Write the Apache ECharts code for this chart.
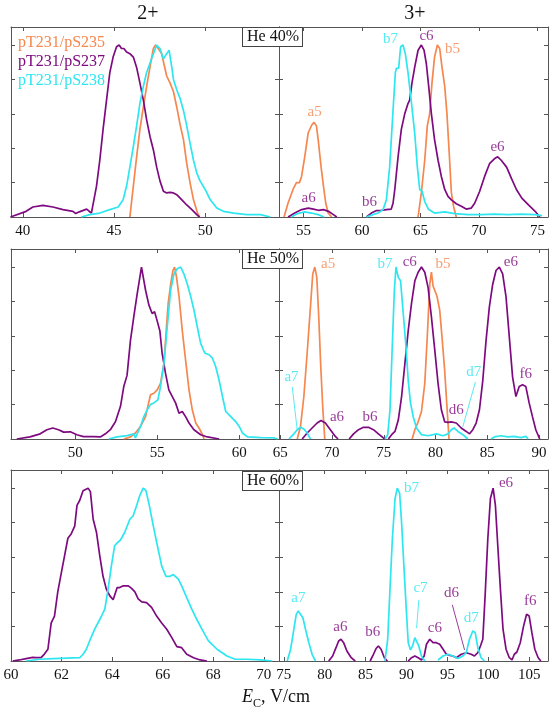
<!DOCTYPE html>
<html><head><meta charset="utf-8">
<script src="https://cdn.jsdelivr.net/npm/echarts@6/dist/echarts.min.js"></script>
<style>html,body{margin:0;padding:0;background:#fff}#c{width:555px;height:715px}</style>
</head><body><div id="c"></div>
<script>
// ---------- DATA (x: E_C in V/cm, y: normalized intensity) ----------
// Row 1: He 40%
const r1L_S235 = [[[45.87,0],[46.06,0.18],[46.24,0.35],[46.42,0.51],[46.61,0.64],[46.79,0.76],[46.97,0.87],[47.16,0.98],[47.28,1.0],[47.43,0.98],[47.61,0.95],[47.74,0.89],[47.89,0.82],[48.07,0.78],[48.26,0.73],[48.44,0.64],[48.62,0.54],[48.81,0.45],[48.99,0.31],[49.17,0.20],[49.36,0.10],[49.58,0.023],[49.69,0]]];
const r1L_S237 = [[[39.32,0],[40.18,0.033],[40.55,0.058],[41.1,0.068],[41.65,0.058],[42.2,0.043],[42.75,0.033],[42.9,0.02],[43.1,0.03],[43.5,0.046],[43.62,0.035],[43.76,0.023],[44.04,0.18],[44.22,0.33],[44.4,0.51],[44.59,0.68],[44.77,0.84],[44.95,0.93],[45.14,0.99],[45.28,1.0],[45.41,0.98],[45.54,0.98],[45.69,0.96],[45.87,0.95],[46.06,0.93],[46.24,0.87],[46.42,0.78],[46.61,0.68],[46.79,0.565],[46.97,0.47],[47.16,0.39],[47.34,0.29],[47.52,0.21],[47.71,0.15],[47.89,0.14],[48.07,0.143],[48.26,0.14],[48.44,0.13],[48.72,0.10],[48.99,0.07],[49.27,0.043],[49.54,0.014],[49.69,0]]];
const r1L_S238 = [[[43.21,0],[43.67,0.014],[44.22,0.023],[44.77,0.043],[45.23,0.058],[45.5,0.10],[45.69,0.18],[45.87,0.29],[46.06,0.41],[46.24,0.53],[46.42,0.66],[46.61,0.76],[46.79,0.84],[47.06,0.92],[47.34,1.0],[47.52,0.98],[47.71,0.92],[47.89,0.95],[48.02,0.97],[48.17,0.87],[48.26,0.80],[48.44,0.74],[48.62,0.69],[48.81,0.62],[48.99,0.53],[49.17,0.43],[49.36,0.33],[49.54,0.255],[49.72,0.21],[50.0,0.16],[50.28,0.10],[50.64,0.052],[51.0,0.033],[51.56,0.023],[52.29,0.014],[53.03,0.014],[53.58,0]]];

const r1R_S235 = [[[53.33,0],[53.67,0.08],[54.1,0.16],[54.39,0.20],[54.55,0.19],[54.65,0.2],[54.83,0.236],[55.1,0.35],[55.4,0.49],[55.7,0.535],[55.9,0.55],[56.1,0.53],[56.25,0.45],[56.5,0.29],[56.7,0.18],[56.9,0.08],[57.1,0.023],[57.4,0]],
  [[64.79,0],[65.07,0.14],[65.36,0.33],[65.58,0.53],[65.78,0.60],[65.98,0.78],[66.2,0.93],[66.44,1.0],[66.64,0.98],[66.84,0.87],[67.07,0.76],[67.26,0.60],[67.44,0.39],[67.64,0.14],[67.83,0.06],[68.06,0]]];
const r1R_S237 = [[[53.68,0],[54.25,0.023],[54.83,0.043],[55.4,0.052],[55.84,0.046],[56.27,0.039],[56.7,0.043],[57.13,0.033],[57.55,0.014],[57.84,0]],
  [[60.37,0],[60.8,0.023],[61.2,0.037],[61.65,0.039],[62.08,0.043],[62.5,0.046],[62.65,0.08],[62.8,0.16],[63.08,0.35],[63.36,0.51],[63.65,0.60],[63.93,0.66],[64.07,0.68],[64.27,0.78],[64.5,0.87],[64.79,0.97],[65.07,1.0],[65.3,0.97],[65.5,0.89],[65.7,0.76],[65.93,0.60],[66.2,0.45],[66.5,0.33],[66.78,0.236],[67.07,0.16],[67.35,0.12],[67.64,0.10],[68.06,0.077],[68.49,0.062],[68.9,0.046],[69.34,0.052],[69.63,0.08],[70.06,0.15],[70.48,0.236],[70.9,0.31],[71.34,0.34],[71.6,0.35],[71.9,0.33],[72.36,0.29],[72.8,0.22],[73.2,0.16],[73.66,0.11],[74.23,0.07],[74.8,0.033],[75.2,0]]];
const r1R_S238 = [[[53.96,0],[54.5,0.02],[55.1,0.03],[55.67,0.023],[56.25,0.014],[56.76,0]],
  [[60.37,0],[60.94,0.014],[61.37,0.023],[61.8,0.043],[62.08,0.10],[62.36,0.29],[62.65,0.62],[62.85,0.84],[62.94,0.865],[63.13,0.865],[63.3,0.99],[63.5,1.0],[63.7,0.95],[63.93,0.84],[64.2,0.68],[64.5,0.49],[64.73,0.29],[64.93,0.16],[65.13,0.15],[65.36,0.09],[65.7,0.043],[66.2,0.023],[67.07,0.03],[67.92,0.02],[69.06,0.014],[70.2,0.014],[71.34,0.017],[72.48,0.014],[73.6,0.017],[74.8,0.014],[75.4,0.008]]];
const r1R_labels = [[55.94,0.61,'a5','S235'],[55.43,0.11,'a6','S237'],[60.64,0.087,'b6','S237'],[62.44,1.035,'b7','S238'],[65.51,1.05,'c6','S237'],[67.73,0.977,'b5','S235'],[71.58,0.407,'e6','S237']];

// Row 2: He 50%
const r2L_S235 = [[[52.96,0],[53.37,0.012],[53.67,0.035],[53.98,0.073],[54.29,0.13],[54.59,0.257],[54.8,0.266],[55.0,0.286],[55.2,0.324],[55.41,0.44],[55.55,0.63],[55.67,0.79],[55.82,0.90],[55.96,0.98],[56.06,1.0],[56.18,0.94],[56.33,0.83],[56.53,0.63],[56.73,0.46],[56.94,0.286],[57.14,0.17],[57.35,0.093],[57.55,0.064],[57.76,0.025],[57.86,0]]];
const r2L_S237 = [[[46.43,0],[47.24,0.012],[47.86,0.03],[48.27,0.054],[48.63,0.064],[48.98,0.054],[49.29,0.04],[49.7,0.042],[50.1,0.025],[50.5,0.014],[51.12,0.014],[51.53,0.012],[51.84,0.03],[52.14,0.054],[52.45,0.10],[52.76,0.19],[52.96,0.305],[53.16,0.37],[53.37,0.575],[53.57,0.71],[53.78,0.845],[53.94,0.94],[54.04,1.0],[54.14,0.99],[54.29,0.865],[54.49,0.78],[54.69,0.73],[54.84,0.74],[54.96,0.70],[55.16,0.63],[55.3,0.50],[55.51,0.38],[55.71,0.286],[55.92,0.247],[56.12,0.21],[56.33,0.15],[56.53,0.16],[56.73,0.13],[56.94,0.093],[57.24,0.054],[57.65,0.025],[58.06,0.012],[58.78,0]]];
const r2L_S238 = [[[52.04,0],[52.55,0.012],[53.16,0.02],[53.57,0.03],[53.67,0.006],[53.78,0.006],[53.98,0.073],[54.18,0.13],[54.39,0.17],[54.59,0.2],[54.8,0.21],[55.04,0.228],[55.2,0.305],[55.41,0.44],[55.61,0.65],[55.82,0.865],[56.02,0.96],[56.22,0.99],[56.43,1.0],[56.63,0.96],[56.84,0.90],[57.04,0.83],[57.24,0.75],[57.45,0.65],[57.65,0.556],[57.9,0.50],[58.16,0.49],[58.37,0.47],[58.57,0.42],[58.78,0.34],[58.98,0.247],[59.18,0.16],[59.49,0.13],[59.8,0.10],[60.0,0.073],[60.2,0.035],[60.51,0.012],[61.33,0.008],[62.14,0.006],[62.35,0]]];

const r2R_S235 = [[[66.64,0],[66.96,0.073],[67.28,0.247],[67.6,0.50],[67.92,0.77],[68.14,0.96],[68.34,1.0],[68.53,0.94],[68.72,0.71],[68.9,0.44],[69.1,0.19],[69.3,0]],
  [[77.74,0],[78.0,0.054],[78.32,0.10],[78.64,0.16],[78.96,0.324],[79.2,0.595],[79.44,0.90],[79.6,0.97],[79.76,0.89],[79.92,0.89],[80.14,0.83],[80.4,0.75],[80.62,0.595],[80.88,0.40],[81.1,0.19],[81.3,0]]];
const r2R_S237 = [[[67.12,0],[67.6,0.035],[68.08,0.064],[68.56,0.093],[68.94,0.108],[69.36,0.093],[69.84,0.054],[70.32,0.015],[70.58,0]],
  [[71.66,0],[72.08,0.03],[72.56,0.054],[73.04,0.068],[73.52,0.068],[74.0,0.054],[74.48,0.03],[74.96,0.006],[75.12,0]],
  [[75.44,0],[75.76,0.025],[76.08,0.044],[76.4,0.11],[76.72,0.247],[77.04,0.44],[77.36,0.63],[77.68,0.79],[78.0,0.92],[78.32,0.97],[78.64,1.0],[78.96,0.97],[79.28,0.88],[79.6,0.71],[79.92,0.52],[80.24,0.324],[80.56,0.17],[80.88,0.10],[81.2,0.097],[81.52,0.10],[82.0,0.093],[82.48,0.064],[82.96,0.044],[83.28,0.03],[83.6,0.054],[83.92,0.093],[84.24,0.17],[84.56,0.34],[84.88,0.575],[85.2,0.77],[85.52,0.90],[85.84,0.98],[86.16,1.0],[86.48,0.96],[86.8,0.83],[87.12,0.595],[87.44,0.36],[87.76,0.247],[88.08,0.305],[88.4,0.315],[88.72,0.305],[89.04,0.21],[89.36,0.13],[89.68,0.054],[90.06,0]]];
const r2R_S238 = [[[65.84,0],[66.32,0.03],[66.64,0.054],[66.96,0.068],[67.28,0.058],[67.6,0.035],[67.92,0]],
  [[75.12,0],[75.38,0.025],[75.6,0.17],[75.82,0.54],[76.02,0.865],[76.18,1.0],[76.4,0.94],[76.62,0.92],[76.88,0.73],[77.14,0.54],[77.36,0.34],[77.58,0.21],[77.84,0.13],[78.16,0.064],[78.64,0.025],[79.28,0.019],[80.08,0.03],[80.72,0.019],[81.2,0.03],[81.52,0.054],[81.78,0.064],[82.16,0.044],[82.64,0.025],[83.12,0]],
  [[85.36,0],[85.68,0.012],[86.32,0.019],[86.96,0.012],[87.6,0.015],[88.24,0.008],[88.72,0.015],[88.94,0]]];
const r2R_labels = [[69.62,1.017,'a5','S235'],[75.12,1.017,'b7','S238'],[77.51,1.027,'c6','S237'],[80.71,1.017,'b5','S235'],[87.27,1.027,'e6','S237'],[66.09,0.361,'a7','S238'],[70.48,0.129,'a6','S237'],[73.68,0.129,'b6','S237'],[82.0,0.168,'d6','S237'],[83.69,0.39,'d7','S238'],[88.71,0.38,'f6','S237']];
const r2R_leaders = [[[66.16,0.303],[66.64,0.052],'S238'],[[83.85,0.332],[82.63,0.071],'S238']];

// Row 3: He 60%
const r3L_S237 = [[[60.07,0],[60.33,0.006],[60.6,0.014],[60.86,0.021],[60.99,0.019],[61.06,0.03],[61.19,0.02],[61.32,0.04],[61.46,0.068],[61.59,0.22],[61.72,0.26],[61.85,0.40],[61.99,0.51],[62.12,0.61],[62.25,0.71],[62.38,0.735],[62.52,0.78],[62.61,0.90],[62.72,0.93],[62.85,0.985],[63.05,1.0],[63.14,0.98],[63.25,0.82],[63.38,0.745],[63.51,0.61],[63.64,0.49],[63.77,0.416],[63.91,0.377],[64.04,0.354],[64.1,0.348],[64.2,0.425],[64.3,0.425],[64.44,0.435],[64.64,0.435],[64.77,0.42],[64.9,0.40],[65.03,0.36],[65.17,0.342],[65.36,0.338],[65.56,0.31],[65.76,0.26],[65.96,0.22],[66.16,0.184],[66.36,0.135],[66.56,0.083],[66.75,0.077],[66.95,0.039],[67.22,0.019],[67.48,0.006],[67.75,0]]];
const r3L_S238 = [[[60.6,0],[61.13,0.01],[61.66,0.014],[62.19,0.017],[62.72,0.019],[62.85,0.039],[62.98,0.068],[63.11,0.116],[63.31,0.184],[63.51,0.24],[63.71,0.30],[63.84,0.416],[63.97,0.55],[64.1,0.667],[64.2,0.683],[64.33,0.70],[64.5,0.745],[64.7,0.82],[64.83,0.84],[64.97,0.90],[65.1,0.96],[65.23,1.0],[65.34,0.985],[65.47,0.90],[65.63,0.78],[65.79,0.667],[65.96,0.55],[66.13,0.49],[66.29,0.49],[66.42,0.50],[66.62,0.474],[66.75,0.435],[66.95,0.367],[67.15,0.30],[67.35,0.24],[67.55,0.184],[67.81,0.116],[68.15,0.068],[68.54,0.029],[68.87,0.01],[69.34,0.01],[69.87,0.006],[70.33,0]]];

const r3R_S237 = [[[80.49,0],[80.97,0.029],[81.38,0.077],[81.7,0.116],[81.99,0.126],[82.31,0.106],[82.71,0.058],[83.24,0.019],[83.73,0]],
  [[85.55,0],[85.96,0.039],[86.28,0.072],[86.56,0.087],[86.89,0.068],[87.29,0.019],[87.66,0]],
  [[90.21,0],[90.62,0.019],[91.02,0.029],[91.43,0.019],[91.83,0.006],[92.16,0.029],[92.44,0.097],[92.84,0.126],[93.25,0.106],[93.65,0.106],[94.06,0.097],[94.47,0.068],[94.87,0.039],[95.28,0.033],[95.68,0.029],[96.09,0.019],[96.7,0.039],[97.3,0.048],[97.91,0.039],[98.31,0.029],[98.72,0.048],[99.04,0.087],[99.33,0.126],[99.61,0.377],[99.94,0.706],[100.26,0.94],[100.59,1.0],[100.87,0.90],[101.16,0.667],[101.48,0.416],[101.8,0.184],[102.17,0.068],[102.57,0.019],[102.9,0.006],[103.18,0.039],[103.5,0.052],[103.91,0.106],[104.32,0.203],[104.68,0.27],[105.0,0.26],[105.33,0.164],[105.69,0.068],[106.1,0.019],[106.42,0]]];
const r3R_S238 = [[[75.42,0],[75.83,0.068],[76.23,0.184],[76.52,0.27],[76.76,0.29],[77.04,0.27],[77.33,0.25],[77.65,0.184],[78.06,0.106],[78.46,0.039],[78.87,0]],
  [[87.37,0],[87.7,0.126],[87.98,0.416],[88.27,0.706],[88.6,0.94],[88.87,1.0],[89.16,0.97],[89.4,0.80],[89.68,0.55],[89.97,0.30],[90.21,0.106],[90.49,0.064],[90.74,0.087],[91.02,0.135],[91.26,0.135],[91.5,0.087],[91.83,0.029],[92.24,0]],
  [[93.86,0.006],[94.47,0.029],[95.07,0.039],[95.68,0.029],[96.29,0.014],[96.9,0.029],[97.3,0.048],[97.7,0.126],[98.11,0.174],[98.4,0.164],[98.72,0.077],[99.12,0.019],[99.53,0]]];
const r3R_labels = [[76.77,0.364,'a7','S238'],[81.91,0.199,'a6','S237'],[85.88,0.17,'b6','S237'],[90.62,1.002,'b7','S238'],[91.71,0.422,'c7','S238'],[93.46,0.19,'c6','S237'],[95.49,0.393,'d6','S237'],[97.92,0.248,'d7','S238'],[102.17,1.031,'e6','S237'],[105.12,0.344,'f6','S237']];
const r3R_leaders = [[[91.51,0.354],[91.23,0.19],'S238'],[[95.6,0.325],[97.1,0.064],'S237']];

const legendNames = {S235:'pT231/pS235', S237:'pT231/pS237', S238:'pT231/pS238'};
const columnTitles = ['2+','3+'];
const rowTitles = ['He 40%','He 50%','He 60%'];

// ---------- STYLE / LAYOUT ----------
const COLORS = {S235:'#F5874F', S237:'#7E0A80', S238:'#2DE6F0'};
const FONT = '"Liberation Serif","Times New Roman",serif';
const FR = '#555';

const panels = [
  {grid:{left:11,top:27,width:268,height:190}, xr:[39.35,54.05], step:5, series:{S235:r1L_S235,S237:r1L_S237,S238:r1L_S238}, labels:[], leaders:[]},
  {grid:{left:279,top:27,width:269,height:190}, xr:[52.9,75.9], step:5, series:{S235:r1R_S235,S237:r1R_S237,S238:r1R_S238}, labels:r1R_labels, leaders:[]},
  {grid:{left:11,top:249,width:268,height:190}, xr:[46.08,62.43], step:5, series:{S235:r2L_S235,S237:r2L_S237,S238:r2L_S238}, labels:[], leaders:[]},
  {grid:{left:279,top:249,width:269,height:190}, xr:[64.88,90.86], step:5, series:{S235:r2R_S235,S237:r2R_S237,S238:r2R_S238}, labels:r2R_labels, leaders:r2R_leaders},
  {grid:{left:11,top:470,width:268,height:191}, xr:[60,70.6], step:2, series:{S237:r3L_S237,S238:r3L_S238}, labels:[], leaders:[]},
  {grid:{left:279,top:470,width:269,height:191}, xr:[74.41,107.3], step:5, series:{S237:r3R_S237,S238:r3R_S238}, labels:r3R_labels, leaders:r3R_leaders},
];

const grids=[], xAxes=[], yAxes=[], series=[];
panels.forEach((p,i)=>{
  grids.push(Object.assign({containLabel:false, show:false}, p.grid));
  const st = p.step;
  const fmt = v => Math.abs(v/st - Math.round(v/st)) < 1e-6 ? String(Math.round(v)) : '';
  const baseX = {gridIndex:i, type:'value', min:p.xr[0], max:p.xr[1], minInterval:st, maxInterval:st, splitNumber:6,
    axisLine:{show:true, onZero:false, lineStyle:{color:FR, width:1}},
    axisTick:{show:true, inside:true, length:4, lineStyle:{color:FR, width:1}},
    splitLine:{show:false}};
  xAxes.push(Object.assign({}, baseX, {position:'bottom',
    axisLabel:{show:true, formatter:fmt, color:'#111', fontFamily:FONT, fontSize:15, margin:7}}));
  xAxes.push(Object.assign({}, baseX, {position:'top', axisLabel:{show:false}}));
  const baseY = {gridIndex:i, type:'value', min:0, max:1.105, interval:0.2,
    axisLine:{show:true, onZero:false, lineStyle:{color:FR, width:1}},
    axisTick:{show:true, inside:true, length:4, lineStyle:{color:FR, width:1}},
    axisLabel:{show:false}, splitLine:{show:false}};
  yAxes.push(Object.assign({}, baseY, {position:'left'}));
  yAxes.push(Object.assign({}, baseY, {position:'right'}));
  Object.keys(p.series).forEach(key=>{
    p.series[key].forEach(seg=>{
      series.push({type:'line', xAxisIndex:2*i, yAxisIndex:2*i, data:seg, showSymbol:false, symbol:'none',
        smooth:false, clip:true, lineStyle:{color:COLORS[key], width:1.7}, itemStyle:{color:COLORS[key]}, silent:true, z:3});
    });
  });
  p.leaders.forEach(l=>{
    series.push({type:'line', xAxisIndex:2*i, yAxisIndex:2*i, data:[l[0],l[1]], showSymbol:false, symbol:'none',
      lineStyle:{color:COLORS[l[2]], width:0.8}, silent:true, z:3});
  });
  if (p.labels.length){
    series.push({type:'scatter', xAxisIndex:2*i, yAxisIndex:2*i, symbolSize:1, itemStyle:{color:'rgba(0,0,0,0)'}, silent:true, z:4,
      data:p.labels.map(l=>({value:[l[0],l[1]], name:l[2], label:{color:COLORS[l[3]]}})),
      label:{show:true, position:'inside', formatter:q=>q.name, fontFamily:FONT, fontSize:15}});
  }
});

const graphics = [];
// column titles
graphics.push({type:'text', left:null, x:148, y:14, z:100, style:{text:columnTitles[0], x:0, y:0, font:'20px '+FONT, fill:'#111', align:'center', verticalAlign:'middle'}});
graphics.push({type:'text', x:415, y:14, z:100, style:{text:columnTitles[1], font:'20px '+FONT, fill:'#111', align:'center', verticalAlign:'middle'}});
// legend text
['S235','S237','S238'].forEach((k,j)=>{
  graphics.push({type:'text', x:18, y:43+19*j, z:100, style:{text:legendNames[k], font:'16px '+FONT, fill:COLORS[k], align:'left', verticalAlign:'middle'}});
});
// row boxes
[28,250,472].forEach((t,j)=>{
  graphics.push({type:'text', x:243, y:t, z:100, style:{text:rowTitles[j], font:'16px '+FONT, fill:'#111', align:'left', verticalAlign:'top',
    backgroundColor:'#fff', borderColor:'#444', borderWidth:1, padding:[1,3,1,4]}});
});
// x axis title
graphics.push({type:'text', x:242, y:697, z:100, style:{text:'E', font:'italic 18px '+FONT, fill:'#111', align:'left', verticalAlign:'middle'}});
graphics.push({type:'text', x:253, y:704, z:100, style:{text:'C', font:'12px '+FONT, fill:'#111', align:'left', verticalAlign:'middle'}});
graphics.push({type:'text', x:261, y:697, z:100, style:{text:', V/cm', font:'18px '+FONT, fill:'#111', align:'left', verticalAlign:'middle'}});

const chart = echarts.init(document.getElementById('c'), null, {renderer:'canvas'});
chart.setOption({animation:false, backgroundColor:'#fff', grid:grids, xAxis:xAxes, yAxis:yAxes, series:series, graphic:graphics});
</script></body></html>
